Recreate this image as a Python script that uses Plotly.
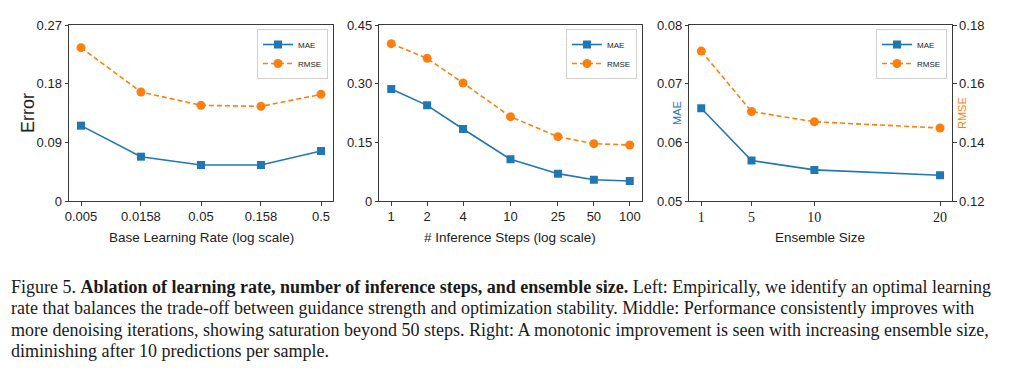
import plotly.graph_objects as go

# ---------------- data ----------------
lr_vals = [0.005, 0.0158, 0.05, 0.158, 0.5]
lr_labels = ["0.005", "0.0158", "0.05", "0.158", "0.5"]
lr_mae = [0.1156, 0.0680, 0.0552, 0.0552, 0.0767]
lr_rmse = [0.2352, 0.1672, 0.1468, 0.1452, 0.1636]

steps_vals = [1, 2, 4, 10, 25, 50, 100]
steps_labels = ["1", "2", "4", "10", "25", "50", "100"]
steps_mae = [0.2864, 0.2446, 0.1840, 0.1065, 0.0699, 0.0545, 0.0511]
steps_rmse = [0.4023, 0.3648, 0.3017, 0.2156, 0.1645, 0.1466, 0.1432]

ens_vals = [1, 5, 10, 20]
ens_labels = ["1", "5", "10", "20"]
ens_mae = [0.0658, 0.0569, 0.0553, 0.0544]
ens_rmse = [0.1711, 0.1505, 0.1470, 0.1449]

left_yticks = [0, 0.09, 0.18, 0.27]
left_ylabels = ["0", "0.09", "0.18", "0.27"]
mid_yticks = [0, 0.15, 0.30, 0.45]
mid_ylabels = ["0", "0.15", "0.30", "0.45"]
right_mae_ticks = [0.05, 0.06, 0.07, 0.08]
right_mae_labels = ["0.05", "0.06", "0.07", "0.08"]
right_rmse_ticks = [0.12, 0.14, 0.16, 0.18]
right_rmse_labels = ["0.12", "0.14", "0.16", "0.18"]

caption_lines = [
    "Figure 5. <b>Ablation of learning rate, number of inference steps, and ensemble size.</b> Left: Empirically, we identify an optimal learning",
    "rate that balances the trade-off between guidance strength and optimization stability. Middle: Performance consistently improves with",
    "more denoising iterations, showing saturation beyond 50 steps. Right: A monotonic improvement is seen with increasing ensemble size,",
    "diminishing after 10 predictions per sample.",
]

# ---------------- style ----------------
W, H = 1024, 369
BLUE = "#1f77b4"
ORANGE = "#ff7f0e"
FRAME = "#3a3a3a"
TICKFONT = dict(family="Liberation Sans", size=13, color="#222")

def px_x(p):
    return p / W

def px_y(p):
    return 1 - p / H

ydom = [px_y(201), px_y(25)]

fig = go.Figure()

def add_pair(x, mae, rmse, xa, ya, ya2, legend):
    fig.add_trace(go.Scatter(
        x=x, y=mae, name="MAE", mode="lines+markers", xaxis=xa, yaxis=ya,
        line=dict(color=BLUE, width=1.6),
        marker=dict(symbol="square", size=8, color=BLUE),
        legend=legend,
    ))
    fig.add_trace(go.Scatter(
        x=x, y=rmse, name="RMSE", mode="lines+markers", xaxis=xa, yaxis=ya2,
        line=dict(color=ORANGE, width=1.6, dash="5px,3px"),
        marker=dict(symbol="circle", size=9, color=ORANGE),
        legend=legend,
    ))

add_pair(lr_vals, lr_mae, lr_rmse, "x", "y", "y", "legend")
add_pair(steps_vals, steps_mae, steps_rmse, "x2", "y2", "y2", "legend2")
add_pair(ens_vals, ens_mae, ens_rmse, "x3", "y3", "y4", "legend3")

axis_common = dict(
    showline=True, linecolor=FRAME, linewidth=1, mirror=True,
    ticks="outside", ticklen=3.5, tickcolor=FRAME, tickwidth=1,
    showgrid=False, zeroline=False, tickfont=TICKFONT, automargin=False,
)

fig.update_layout(
    width=W, height=H, autosize=False,
    margin=dict(l=0, r=0, t=0, b=0, pad=0),
    paper_bgcolor="white", plot_bgcolor="white",
    xaxis=dict(domain=[px_x(69), px_x(333)], type="log", range=[-2.401, -0.201],
               tickvals=lr_vals, ticktext=lr_labels, anchor="y", **axis_common),
    yaxis=dict(domain=ydom, range=[0, 0.27], tickvals=left_yticks, ticktext=left_ylabels,
               anchor="x", **axis_common),
    xaxis2=dict(domain=[px_x(379.3), px_x(641.7)], type="log", range=[-0.1, 2.1],
                tickvals=steps_vals, ticktext=steps_labels, anchor="y2", **axis_common),
    yaxis2=dict(domain=ydom, range=[0, 0.45], tickvals=mid_yticks, ticktext=mid_ylabels,
                anchor="x2", **axis_common),
    xaxis3=dict(domain=[px_x(689.3), px_x(952)], range=[0.05, 20.95],
                tickvals=ens_vals, ticktext=ens_labels, anchor="y3",
                **{**axis_common, "tickfont": dict(family="Liberation Serif", size=14, color="#222")}),
    yaxis3=dict(domain=ydom, range=[0.05, 0.08], tickvals=right_mae_ticks,
                ticktext=right_mae_labels, anchor="x3",
                **{**axis_common, "mirror": False}),
    yaxis4=dict(domain=ydom, range=[0.12, 0.18], tickvals=right_rmse_ticks,
                ticktext=right_rmse_labels, anchor="x3", overlaying="y3", side="right",
                **{**axis_common, "mirror": False}),
    showlegend=True,
)

legend_common = dict(
    bgcolor="rgba(255,255,255,0.9)", bordercolor="#d0d0d0", borderwidth=1,
    font=dict(family="Liberation Sans", size=8, color="#222"),
    xanchor="right", yanchor="top", xref="paper", yref="paper",
    itemwidth=30, tracegroupgap=0,
)
fig.update_layout(
    legend=dict(x=px_x(328), y=px_y(29), **legend_common),
    legend2=dict(x=px_x(637), y=px_y(29), **legend_common),
    legend3=dict(x=px_x(947), y=px_y(29), **legend_common),
)

annotations = []
def ann(text, x, y, size, color="#222", angle=0, family="Liberation Sans", xanchor="center"):
    annotations.append(dict(
        text=text, x=px_x(x), y=px_y(y), xref="paper", yref="paper",
        showarrow=False, textangle=angle, xanchor=xanchor, yanchor="middle",
        font=dict(family=family, size=size, color=color),
    ))

ann("Base Learning Rate (log scale)", 201, 238, 13.5)
ann("# Inference Steps (log scale)", 510, 238, 13.5)
ann("Ensemble Size", 820, 238, 13.5)
ann("Error", 28, 113, 18, angle=-90)
ann("MAE", 677, 113, 11, color=BLUE, angle=-90)
ann("RMSE", 962, 113, 11, color=ORANGE, angle=-90)

cap_y = [287, 308, 330, 351]
for line, yy in zip(caption_lines, cap_y):
    ann(line, 9, yy, 18, color="#1a1a1a", family="Liberation Serif", xanchor="left")

fig.update_layout(annotations=annotations)

fig.write_html(
    "out.html",
    config={"displayModeBar": False},
    post_script="document.body.style.margin='0';document.body.style.padding='0';",
)
